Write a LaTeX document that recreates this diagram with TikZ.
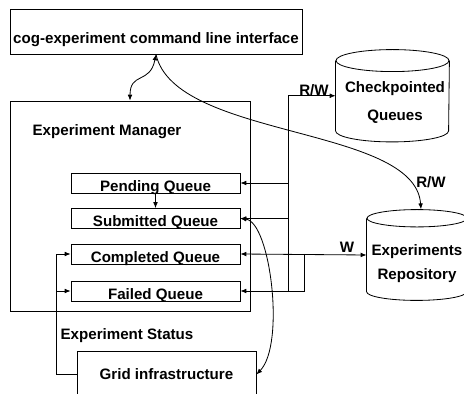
\documentclass[tikz,border=0pt]{standalone}
\usepackage{fontspec}
\setmainfont{Liberation Sans}
\usetikzlibrary{arrows.meta, positioning, calc}
\tikzset{
    schema/.style={x=0.03cm, y=-0.03cm, >={Latex[length=5pt,width=4pt]}, line width=0.7pt,
        font=\fontsize{12.9}{15.5}\selectfont\bfseries},
    block/.style={draw, inner sep=0pt},
    queue/.style={draw, inner sep=0pt, minimum width=5.07cm, minimum height=0.6cm,
        text height=0.49cm, text depth=0pt},
    cylbody/.style={inner sep=0pt},
    tag/.style={inner sep=0pt},
}

\begin{document}
\begin{tikzpicture}[schema]
    \useasboundingbox (0,0) rectangle (464,394);

    % front end and manager
    \node[block, minimum width=8.76cm, minimum height=1.35cm, text height=0.71cm, text depth=0pt] (cli) at (156,31.5) {cog-experiment command line interface};
    \node[block, minimum width=7.2cm, minimum height=6.3cm] (em) at (130,206) {};
    \node[tag] (emlbl) at (107,131.5) {Experiment Manager};

    \node[queue] (pq) at (155.5,183) {Pending Queue};
    \node[queue] (sq) at (155.5,218.5) {Submitted Queue};
    \node[queue] (cq) at (155.5,254) {Completed Queue};
    \node[queue] (fq) at (155.5,291) {Failed Queue};

    \node[block, minimum width=5.37cm, minimum height=1.41cm] (grid) at (166.5,374.5) {Grid infrastructure};
    \node[tag] (status) at (127,335.5) {Experiment Status};

    % storage cylinders
    \node[cylbody, minimum width=3.39cm, minimum height=2.085cm] (chk) at (392.5,95.75) {};
    \draw (chk.north west) -- (chk.south west) arc[start angle=180, end angle=360, x radius=1.695cm, y radius=0.33cm] -- (chk.north east);
    \draw (chk.north) ellipse [x radius=1.695cm, y radius=0.33cm];
    \node[tag, align=center] (chktxt) at (395,103) {Checkpointed\\[8.4pt]Queues};

    \node[cylbody, minimum width=3cm, minimum height=2.18cm] (erp) at (417,255) {};
    \draw (erp.north west) -- (erp.south west) arc[start angle=180, end angle=360, x radius=1.5cm, y radius=0.26cm] -- (erp.north east);
    \draw (erp.north) ellipse [x radius=1.5cm, y radius=0.26cm];
    \node[tag, align=center] (erptxt) at (417,264) {Experiments\\[4.9pt]Repository};

    % bus to the queues
    \coordinate (bus) at (288,291);
    \coordinate (wj) at (304,254);
    \draw[->] (bus) |- (chk.west);
    \node[tag] (rwchk) at (314,90.5) {R/W};
    \draw[->] (bus |- pq.east) -- (pq.east);
    \draw[->] (bus |- sq.east) -- (sq.east);
    \draw[<->] (cq.east) -- (erp.west);
    \node[tag] (wlbl) at (347,247.5) {W};
    \draw[->] (wj) |- (fq.east);
    \draw[->] (pq) -- (sq);

    % status back from the grid
    \coordinate (fbx) at (56,254);
    \draw[->] (grid.west) -| (fbx) -- (cq.west);
    \draw[->] (fbx |- fq.west) -- (fq.west);

    % curved links
    \draw[<->] (cli.south) .. controls +(-6,30) and +(0,-29) .. (em.north);
    \draw[->] (cli.south) .. controls +(19,85) and +(-6,-84) .. ([xshift=0.12cm, yshift=0.27cm]erp.north);
    \node[tag] (rwerp) at (431,182) {R/W};
    \draw[<->] (sq.east) .. controls +(30,3.5) and +(29,-30) .. (grid.east);
\end{tikzpicture}
\end{document}
